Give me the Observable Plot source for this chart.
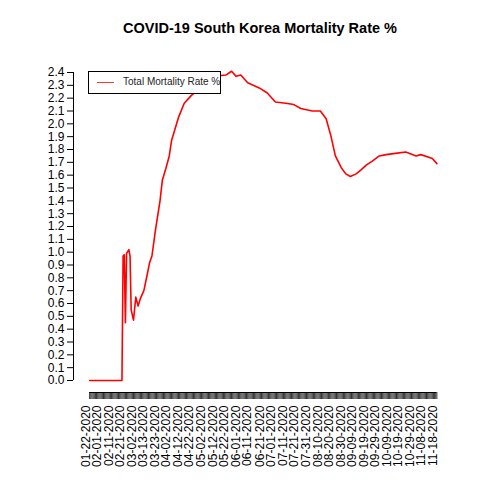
<!DOCTYPE html>
<html>
<head>
<meta charset="utf-8">
<script src="https://cdn.jsdelivr.net/npm/d3@7"></script>
<script src="https://cdn.jsdelivr.net/npm/@observablehq/plot@0.6"></script>
<style>
  body { margin: 0; background: #fff; font-family: "Liberation Sans", Arial, sans-serif; }
  #wrap { position: relative; width: 480px; height: 480px; }
  #title { position: absolute; left: 0; width: 520px; top: 20px; text-align: center; font-weight: bold; font-size: 14.5px; }
  #chart { position: absolute; left: 0; top: 50px; }
  #legend { position: absolute; left: 88px; top: 71px; width: 133px; height: 23px; border: 1px solid #000; background: #fff; font-size: 10px; box-sizing: border-box; white-space: nowrap; }
  #legend span.l { position: absolute; left: 8px; top: 10px; width: 17px; border-top: 1px solid #f33; }
  #legend span.t { position: absolute; left: 34px; top: 4px; color: #222; }
</style>
</head>
<body>
<div id="wrap">
  <div id="title">COVID-19 South Korea Mortality Rate %</div>
  <div id="chart"></div>
  <div id="legend"><span class="l"></span><span class="t">Total Mortality Rate %</span></div>
</div>
<script>
// values
const dates = ["2020-01-22","2020-02-19","2020-02-20","2020-02-21","2020-02-22","2020-02-23","2020-02-25","2020-02-26",
  "2020-02-27","2020-02-29","2020-03-02","2020-03-04","2020-03-06","2020-03-09","2020-03-12","2020-03-14","2020-03-16",
  "2020-03-19","2020-03-23","2020-03-25","2020-03-28","2020-03-31","2020-04-02","2020-04-05","2020-04-08","2020-04-13",
  "2020-04-19","2020-04-27","2020-05-03","2020-05-08","2020-05-19","2020-05-24","2020-05-28","2020-06-01","2020-06-07",
  "2020-06-17","2020-06-24","2020-07-01","2020-07-10","2020-07-17","2020-07-23","2020-08-02","2020-08-09","2020-08-14",
  "2020-08-18","2020-08-22","2020-08-27","2020-08-31","2020-09-04","2020-09-09","2020-09-13","2020-09-18","2020-09-23",
  "2020-09-29","2020-10-05","2020-10-13","2020-10-22","2020-10-31","2020-11-04","2020-11-11","2020-11-14","2020-11-18"];
const rates = [0,0,0.97,0.98,0.45,0.99,1.02,0.97,
  0.55,0.47,0.65,0.58,0.64,0.70,0.83,0.92,0.97,
  1.17,1.40,1.56,1.65,1.75,1.87,1.96,2.05,2.16,
  2.22,2.28,2.35,2.37,2.38,2.41,2.37,2.38,2.32,
  2.28,2.24,2.17,2.16,2.15,2.12,2.10,2.10,2.04,
  1.91,1.75,1.66,1.61,1.59,1.61,1.64,1.68,1.71,
  1.75,1.76,1.77,1.78,1.75,1.76,1.74,1.73,1.69];
const tickLabels = ["01-22-2020","02-01-2020","02-11-2020","02-21-2020","03-02-2020","03-13-2020","03-23-2020",
  "04-02-2020","04-12-2020","04-22-2020","05-02-2020","05-12-2020","05-22-2020","06-01-2020","06-11-2020",
  "06-21-2020","07-01-2020","07-11-2020","07-21-2020","07-31-2020","08-10-2020","08-20-2020","08-30-2020",
  "09-09-2020","09-19-2020","09-29-2020","10-09-2020","10-19-2020","10-29-2020","11-08-2020","11-18-2020"];
const yTicks = d3.range(0, 25).map(i => i / 10);

const parse = d3.utcParse("%Y-%m-%d");
const data = dates.map((d, i) => ({date: parse(d), rate: rates[i]}));
const start = parse(dates[0]), end = parse(dates[dates.length - 1]);
const days = d3.utcDay.range(start, d3.utcDay.offset(end, 1));
// labels are spread evenly along the daily ticks, as in the source chart
const step = (days.length - 1) / (tickLabels.length - 1);
const labelData = tickLabels.map((t, i) => ({date: days[Math.round(i * step)], text: t}));

const chart = Plot.plot({
  width: 480,
  height: 430,
  marginLeft: 73,
  marginRight: 39,
  marginTop: 22,
  marginBottom: 100,
  x: {type: "utc", domain: [parse("2020-01-08"), parse("2020-11-22")]},
  y: {domain: [0, 2.4]},
  style: {fontFamily: "Liberation Sans, Arial, sans-serif", fontSize: "12px", color: "#000"},
  marks: [
    Plot.ruleX([parse("2020-01-08")], {y1: 0, y2: 2.4, stroke: "#000"}),
    Plot.axisY({ticks: yTicks, tickFormat: d3.format(".1f"), tickSize: 6, tickPadding: 3, fontSize: 12, label: null}),
    Plot.axisX({ticks: days, tickFormat: () => "", tickSize: 7, dy: 12, label: null, stroke: "#333"}),
    Plot.ruleY([0], {x1: start, x2: end, dy: 12, stroke: "#000"}),
    Plot.text(labelData, {x: "date", text: "text", frameAnchor: "bottom", dy: 25, rotate: -90, textAnchor: "end", fontSize: 12}),
    Plot.line(data, {x: "date", y: "rate", stroke: "red", strokeWidth: 1.6})
  ]
});
document.getElementById("chart").append(chart);
</script>
</body>
</html>
